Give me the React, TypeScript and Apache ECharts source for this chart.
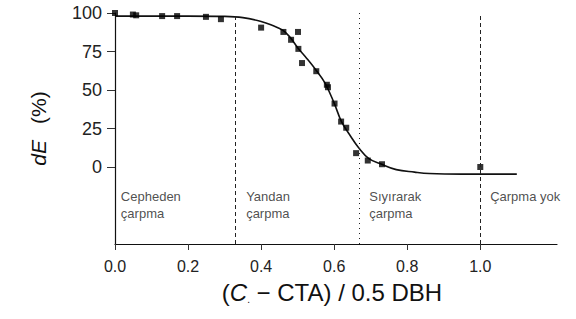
import React, { useEffect, useRef } from "react";
import * as echarts from "echarts";

const pointX = [0, 0.049, 0.058, 0.129, 0.17, 0.249, 0.29, 0.4, 0.461, 0.501, 0.482, 0.502, 0.512, 0.551, 0.58, 0.583, 0.601, 0.619, 0.633, 0.66, 0.692, 0.731, 1.0];
const pointY = [100, 99, 98.5, 98, 98, 97.5, 96, 90.5, 87.7, 87.7, 82.6, 76.7, 67.5, 62.2, 53.4, 51.8, 41.2, 29.5, 25.5, 9, 4.2, 1.8, 0];

const curveX = [0, 0.1, 0.2, 0.3, 0.35, 0.4, 0.43, 0.46, 0.48, 0.5, 0.525, 0.55, 0.575, 0.6, 0.62, 0.645, 0.667, 0.695, 0.73, 0.77, 0.82, 0.86, 0.95, 1.0, 1.1];
const curveY = [98, 98, 98, 97.8, 97, 94.5, 92, 88.7, 84, 77.5, 70.5, 63, 54.5, 41.5, 29.5, 20, 12.5, 5.5, 1.8, -1.7, -3.3, -4.2, -4.6, -4.6, -4.6];

const xTicks = [0, 0.2, 0.4, 0.6, 0.8, 1.0];
const yTicks = [0, 25, 50, 75, 100];

const boundaries = [1 / 3, 2 / 3, 1.0];
const boundaryStyles = ["dashed", "dotted", "dashed"];

const regionLabels = ["Cepheden\nçarpma", "Yandan\nçarpma", "Sıyırarak\nçarpma", "Çarpma yok"];
const regionX = [0.016, 0.359, 0.696, 1.027];
const regionY = -13.5;

const FONT = "'Liberation Sans', Arial, Helvetica, sans-serif";
const INK = "#111111";

export default function App() {
  const ref = useRef<HTMLDivElement>(null);
  useEffect(() => {
    if (!ref.current) return;
    const chart = echarts.init(ref.current, undefined, { renderer: "svg" });
    chart.setOption({
      animation: false,
      backgroundColor: "#ffffff",
      grid: { left: 115, right: 19, top: 13, bottom: 75 },
      xAxis: {
        type: "value",
        min: 0,
        max: 1.21,
        interval: 0.2,
        splitLine: { show: false },
        axisLine: { onZero: false, lineStyle: { color: INK, width: 1.2 } },
        axisTick: { show: true, length: 6, customValues: xTicks, lineStyle: { color: "#333" } },
        axisLabel: {
          customValues: xTicks,
          margin: 14,
          fontSize: 16,
          color: "#222",
          fontFamily: FONT,
          formatter: (v: number) => v.toFixed(1),
        },
        name: "({i|C}{s|.} − CTA) / 0.5 DBH",
        nameLocation: "middle",
        nameGap: 36,
        nameTextStyle: {
          fontSize: 24,
          color: INK,
          fontFamily: FONT,
          verticalAlign: "top",
          padding: [0, 8, 0, 0],
          rich: {
            i: { fontSize: 24, fontStyle: "italic", fontFamily: FONT, color: INK },
            s: { fontSize: 10, fontFamily: FONT, color: INK, verticalAlign: "bottom" },
          },
        },
      },
      yAxis: {
        type: "value",
        min: -50,
        max: 100,
        interval: 25,
        splitLine: { show: false },
        axisLine: { onZero: false, lineStyle: { color: INK, width: 1.2 } },
        axisTick: { show: true, length: 8, customValues: yTicks, lineStyle: { color: "#333" } },
        axisLabel: {
          customValues: yTicks,
          margin: 13,
          fontSize: 18,
          color: "#222",
          fontFamily: FONT,
        },
        name: "{i|dE}{g| }{n|(%)}",
        nameLocation: "middle",
        nameGap: 66,
        nameTextStyle: {
          fontSize: 21,
          color: INK,
          fontFamily: FONT,
          rich: {
            i: { fontSize: 21, fontStyle: "italic", fontFamily: FONT, color: INK },
            g: { fontSize: 21, width: 16, color: INK },
            n: { fontSize: 21, fontFamily: FONT, color: INK },
          },
        },
      },
      series: [
        {
          type: "line",
          data: curveX.map((x, i) => [x, curveY[i]]),
          smooth: 0.4,
          showSymbol: false,
          lineStyle: { color: INK, width: 1.6 },
          z: 3,
          markLine: {
            silent: true,
            symbol: "none",
            label: { show: false },
            data: boundaries.map((b, i) => ({
              xAxis: b,
              lineStyle: { color: "#222", width: 1, type: boundaryStyles[i] === "dotted" ? [1, 4] : [4, 3] },
            })),
          },
        },
        {
          type: "scatter",
          data: pointX.map((x, i) => [x, pointY[i]]),
          symbol: "rect",
          symbolSize: 6,
          itemStyle: { color: "#000" },
          clip: false,
          z: 4,
        },
        {
          type: "scatter",
          data: regionX.map((x, i) => ({ value: [x, regionY], name: regionLabels[i] })),
          symbolSize: 0,
          silent: true,
          label: {
            show: true,
            position: "inside",
            align: "left",
            verticalAlign: "top",
            formatter: (p: any) => p.name,
            fontSize: 13,
            lineHeight: 17,
            color: "#222",
            fontFamily: FONT,
          },
        },
      ],
    });
    return () => chart.dispose();
  }, []);
  return <div ref={ref} style={{ position: "fixed", left: 0, top: 0, width: 576, height: 319 }} />;
}
